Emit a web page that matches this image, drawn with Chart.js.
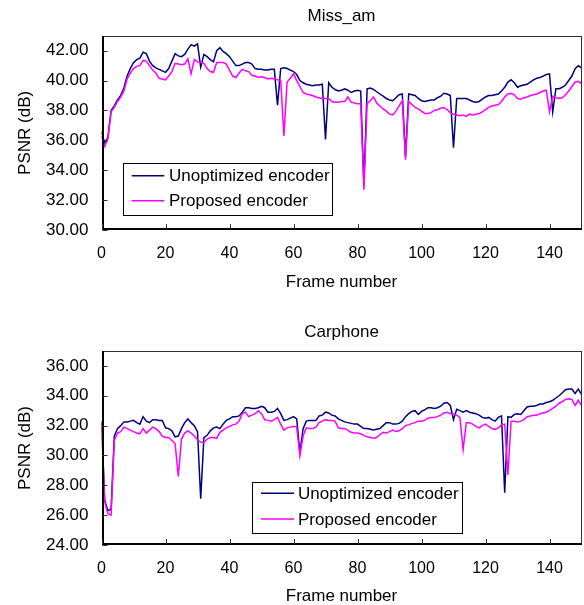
<!DOCTYPE html>
<html>
<head>
<meta charset="utf-8">
<script src="https://cdn.jsdelivr.net/npm/chart.js@4/dist/chart.umd.min.js"></script>
<style>
  html, body { margin: 0; padding: 0; background: #fff; }
  body { width: 584px; height: 605px; position: relative; overflow: hidden; }
  canvas { position: absolute; left: 0; }
</style>
</head>
<body>
<canvas id="c1" width="584" height="300" style="top:0"></canvas>
<canvas id="c2" width="584" height="305" style="top:300px"></canvas>
<script>
// ---------------- data ----------------
const frames = Array.from({ length: 151 }, (_, i) => i);
const xTicks = [0, 20, 40, 60, 80, 100, 120, 140];
const yTicksMiss = [30, 32, 34, 36, 38, 40, 42];
const yTicksCar = [24, 26, 28, 30, 32, 34, 36];
const seriesLabels = ['Unoptimized encoder', 'Proposed encoder'];
const chartTitles = ['Miss_am', 'Carphone'];

const missUnopt = [
  36.6, 35.8, 36.2, 38.0, 38.3, 38.7, 39.0, 39.5, 40.3, 40.8,
  41.2, 41.4, 41.5, 41.9, 41.8, 41.3, 41.0, 40.85, 40.75, 40.65,
  40.55, 40.8, 41.3, 41.8, 41.65, 41.6, 41.75, 42.1, 42.4, 42.3,
  42.45, 40.9, 41.75, 41.6, 41.4, 41.25, 42.0, 42.2, 41.95, 41.8,
  41.6, 41.3, 41.0, 41.0, 41.1, 41.2, 41.2, 41.1, 40.8, 40.75,
  40.75, 40.7, 40.7, 40.75, 40.75, 38.35, 40.8, 40.85, 40.8, 40.7,
  40.6, 40.4, 40.0, 39.85, 39.75, 39.7, 39.65, 39.7, 39.7, 39.75,
  36.05, 39.85, 39.55, 39.4, 39.3, 39.35, 39.45, 39.35, 39.2, 39.3,
  39.35, 39.3, 33.0, 39.45, 39.5, 39.4, 39.25, 39.1, 38.95, 38.8,
  38.7, 38.65, 38.85, 39.05, 39.1, 34.9, 39.1, 39.05, 39.0, 38.8,
  38.65, 38.6, 38.65, 38.7, 38.7, 38.85, 38.95, 39.15, 39.1, 39.0,
  35.5, 38.8, 38.8, 38.8, 38.8, 38.7, 38.6, 38.55, 38.6, 38.75,
  38.9, 39.0, 39.0, 39.05, 39.1, 39.3, 39.55, 39.9, 40.05, 39.85,
  39.55, 39.65, 39.7, 39.75, 39.9, 40.05, 40.15, 40.2, 40.3, 40.4,
  40.45, 37.9, 39.45, 39.45, 39.55, 39.7, 40.0, 40.3, 40.8, 41.0, 40.85
];
const missProp = [
  36.3, 35.6, 36.1, 37.9, 38.2, 38.6, 38.9, 39.3, 40.1, 40.5,
  40.8, 40.95, 41.0, 41.35, 41.3, 41.0, 40.7, 40.5, 40.15, 40.1,
  40.05, 40.3, 40.6, 41.15, 41.1, 41.05, 41.1, 41.45, 40.45, 41.4,
  41.25, 41.2, 41.15, 40.8, 40.6, 40.55, 41.2, 41.2, 41.2, 41.1,
  40.7, 40.3, 40.2, 40.5, 40.75, 40.65, 40.6, 40.35, 40.3, 40.2,
  40.25, 40.2, 40.1, 40.15, 40.1, 40.05, 40.0, 36.3, 39.9, 40.15,
  40.45, 40.0, 39.6, 39.2, 39.1, 39.05, 39.0, 38.9, 38.85, 38.8,
  38.8, 38.8, 38.6, 38.55, 38.55, 38.6, 38.6, 38.9, 38.55, 38.5,
  38.45, 38.45, 32.7, 38.45, 38.65, 38.9, 38.5, 38.3, 38.1, 37.95,
  37.75, 37.7, 37.95, 38.3, 38.65, 34.7, 38.6, 38.4, 38.2, 38.1,
  37.95, 37.8, 37.8, 37.85, 38.0, 38.05, 38.15, 38.2, 38.05, 37.85,
  37.75, 37.7, 37.65, 37.7, 37.6, 37.75, 37.7, 37.75, 37.8, 37.9,
  38.05, 38.2, 38.3, 38.35, 38.4, 38.6, 38.9, 39.1, 39.15, 39.05,
  38.8, 38.75, 38.85, 38.9, 39.0, 39.05, 39.1, 39.2, 39.3, 39.35,
  37.9, 38.95, 38.85, 38.8, 38.85, 39.05, 39.3, 39.6, 39.9, 39.95, 39.8
];
const carUnopt = [
  32.3, 27.0, 26.3, 26.4, 31.3, 31.8, 32.0, 32.25, 32.25, 32.3,
  32.35, 32.2, 32.1, 32.6, 32.3, 32.2, 32.4, 32.4, 32.35, 32.35,
  31.85, 31.8, 31.65, 31.25, 31.3, 31.8, 32.2, 32.45, 32.2, 32.0,
  31.6, 27.1, 31.2, 31.35, 31.65, 31.85, 31.9, 31.8, 32.1, 32.35,
  32.45, 32.6, 32.6, 32.65, 32.9, 33.2, 33.2, 33.15, 33.15, 33.2,
  33.3, 33.2, 32.9, 32.9, 32.95, 33.15, 32.8, 32.35, 32.4, 32.5,
  32.6, 32.45, 30.2, 31.8, 32.3, 32.35, 32.35, 32.35, 32.65, 32.7,
  32.9, 32.85, 32.7, 32.65, 32.45, 32.35, 32.25, 32.2, 32.15, 32.1,
  32.1, 31.95, 31.8, 31.8, 31.75, 31.7, 31.75, 31.8, 32.0, 32.2,
  32.2, 32.1, 32.1, 32.15, 32.3, 32.6, 32.8, 32.95, 33.0, 32.75,
  32.95, 33.05, 33.2, 33.2, 33.15, 33.2, 33.3, 33.5, 33.55, 33.35,
  32.4, 33.1, 33.0, 32.9, 33.0, 32.9, 32.85, 32.8, 32.7, 32.55,
  32.5, 32.55, 32.4, 32.3, 32.55, 32.65, 27.5, 32.6, 32.55, 32.75,
  32.8, 32.75, 33.0, 33.25, 33.3, 33.3, 33.35, 33.45, 33.45, 33.55,
  33.6, 33.7, 33.85, 34.0, 34.2, 34.4, 34.45, 34.45, 34.15, 34.45, 34.1
];
const carProp = [
  32.2, 26.9, 26.1, 26.0, 31.0, 31.5, 31.6, 31.9, 31.8, 31.7,
  31.6, 31.5, 31.45, 31.8, 31.5, 31.7, 31.9, 31.8, 31.6, 31.3,
  31.2, 31.2, 31.0, 30.8, 28.6, 31.1, 31.5, 31.65, 31.5, 31.3,
  31.05, 30.9, 30.85, 31.1, 31.2, 31.2, 31.15, 31.55, 31.7, 31.85,
  31.95, 32.05, 32.1, 32.3, 32.8, 32.9, 32.6, 32.7, 32.8, 33.0,
  32.8, 32.4, 32.35, 32.3, 32.4, 32.55, 32.1, 31.7, 31.85, 31.9,
  31.95, 31.9, 30.0, 31.3, 31.85, 31.8, 31.8, 31.9, 32.2, 32.3,
  32.4, 32.35, 32.35, 32.3, 31.85, 31.8, 31.8, 31.7, 31.55, 31.5,
  31.5, 31.45, 31.35, 31.25, 31.2, 31.15, 31.2, 31.4, 31.55, 31.5,
  31.6, 31.7, 31.6, 31.65, 31.8, 32.0, 32.05, 32.15, 32.2, 32.3,
  32.3, 32.35, 32.5, 32.55, 32.55, 32.6, 32.7, 32.85, 32.9, 32.8,
  32.8, 32.7, 32.55, 30.4, 32.2, 32.2, 32.1, 31.95, 31.85, 32.0,
  32.1, 31.95, 31.8, 31.75, 31.85, 32.05, 32.1, 28.7, 32.3, 32.3,
  32.25, 32.3, 32.4, 32.6, 32.65, 32.7, 32.7, 32.8, 32.85, 32.9,
  33.0, 33.15, 33.3, 33.5, 33.6, 33.75, 33.8, 33.75, 33.35, 33.7, 33.35
];

// ---------------- styling ----------------
const FONT = "'Liberation Sans', Arial, Helvetica, sans-serif";
const BLUE = '#000080';
const MAGENTA = '#FF00FF';

const frameTicksPlugin = {
  id: 'frameTicks',
  afterDatasetsDraw(chart) {
    const { ctx, chartArea: a, scales: { x, y } } = chart;
    ctx.save();
    // thin frame
    ctx.strokeStyle = '#303030';
    ctx.lineWidth = 1;
    ctx.strokeRect(Math.round(a.left) + 0.5, Math.round(a.top) + 0.5,
                   Math.round(a.right - a.left) - 1, Math.round(a.bottom - a.top) - 1);
    // thick axes
    ctx.strokeStyle = '#000';
    ctx.lineWidth = 2;
    ctx.beginPath();
    ctx.moveTo(Math.round(a.left) + 1, Math.round(a.top));
    ctx.lineTo(Math.round(a.left) + 1, Math.round(a.bottom) - 1);
    ctx.lineTo(Math.round(a.right), Math.round(a.bottom) - 1);
    ctx.stroke();
    // inward tick marks
    ctx.lineWidth = 1;
    ctx.strokeStyle = '#333';
    ctx.beginPath();
    x.ticks.forEach(t => {
      const px = Math.round(x.getPixelForValue(t.value)) + 0.5;
      ctx.moveTo(px, a.bottom - 1);
      ctx.lineTo(px, a.bottom - 6);
    });
    y.ticks.forEach(t => {
      const py = Math.round(y.getPixelForValue(t.value)) + 0.5;
      ctx.moveTo(a.left + 1, py);
      ctx.lineTo(a.left + 6, py);
    });
    ctx.stroke();
    ctx.restore();
  }
};

const boxLegendPlugin = {
  id: 'boxLegend',
  afterDraw(chart, args, o) {
    const { ctx } = chart;
    ctx.save();
    ctx.fillStyle = '#fff';
    ctx.fillRect(o.x, o.y, o.w, o.h);
    ctx.strokeStyle = '#000';
    ctx.lineWidth = 1;
    ctx.strokeRect(Math.round(o.x) + 0.5, Math.round(o.y) + 0.5, Math.round(o.w), Math.round(o.h));
    ctx.font = '17px ' + FONT;
    ctx.textBaseline = 'middle';
    ctx.textAlign = 'left';
    chart.data.datasets.forEach((ds, i) => {
      const yy = o.rows[i];
      ctx.strokeStyle = ds.borderColor;
      ctx.lineWidth = 1.5;
      ctx.beginPath();
      ctx.moveTo(o.lineX1, yy);
      ctx.lineTo(o.lineX2, yy);
      ctx.stroke();
      ctx.fillStyle = '#000';
      ctx.fillText(ds.label, o.textX, yy + 1);
    });
    ctx.restore();
  }
};

function makeChart(id, cfg) {
  const canvas = document.getElementById(id);
  return new Chart(canvas, {
    type: 'line',
    data: {
      labels: frames,
      datasets: [
        { label: seriesLabels[0], data: cfg.u.map((v, i) => ({ x: frames[i], y: v })),
          borderColor: BLUE, borderWidth: 1.5, pointRadius: 0, tension: 0, order: 1 },
        { label: seriesLabels[1], data: cfg.p.map((v, i) => ({ x: frames[i], y: v })),
          borderColor: MAGENTA, borderWidth: 1.5, pointRadius: 0, tension: 0, order: 0 }
      ]
    },
    options: {
      responsive: false,
      animation: false,
      devicePixelRatio: 1,
      layout: { padding: { left: 0, right: 2.5, top: 0, bottom: 0 } },
      plugins: {
        legend: { display: false },
        tooltip: { enabled: false },
        title: {
          display: true, text: cfg.title, fullSize: false, color: '#000',
          font: { family: FONT, size: 17, weight: 'normal' },
          padding: cfg.titlePad
        },
        boxLegend: cfg.legend
      },
      scales: {
        x: {
          type: 'linear', min: 0, max: 150,
          afterBuildTicks: s => { s.ticks = xTicks.map(v => ({ value: v })); },
          afterFit: s => { s.height = cfg.xHeight; },
          grid: { display: false, drawTicks: false },
          border: { display: false },
          ticks: { color: '#000', font: { family: FONT, size: 16 }, padding: cfg.xTickPad,
                   maxRotation: 0, autoSkip: false },
          title: { display: true, text: 'Frame number', color: '#000',
                   font: { family: FONT, size: 17, lineHeight: 1 }, padding: { top: 0, bottom: cfg.xTitlePad } }
        },
        y: {
          min: cfg.yMin, max: cfg.yMax,
          afterBuildTicks: s => { s.ticks = cfg.yTicks.map(v => ({ value: v })); },
          afterFit: s => { s.width = 101.5; },
          grid: { display: false, drawTicks: false },
          border: { display: false },
          ticks: { color: '#000', font: { family: FONT, size: 17 }, padding: 13,
                   callback: v => Number(v).toFixed(2) },
          title: { display: true, text: 'PSNR (dB)', color: '#000',
                   font: { family: FONT, size: 17 }, padding: { top: 15, bottom: 0 } }
        }
      }
    },
    plugins: [frameTicksPlugin, boxLegendPlugin]
  });
}

makeChart('c1', {
  title: chartTitles[0], u: missUnopt, p: missProp,
  yMin: 30, yMax: 43, yTicks: yTicksMiss,
  titlePad: { top: 6.3, bottom: 9 },
  xHeight: 70, xTickPad: 14.4, xTitlePad: 9.5,
  legend: { x: 123.3, y: 163.3, w: 209, h: 51.7, lineX1: 131.7, lineX2: 164.3, textX: 169, rows: [175.7, 200.7] }
});
makeChart('c2', {
  title: chartTitles[1], u: carUnopt, p: carProp,
  yMin: 24, yMax: 37, yTicks: yTicksCar,
  titlePad: { top: 22.5, bottom: 8.1 },
  xHeight: 60, xTickPad: 14.4, xTitlePad: 0.5,
  legend: { x: 252.3, y: 181.7, w: 209.7, h: 51.3, lineX1: 261, lineX2: 294, textX: 298, rows: [193.3, 219] }
});
</script>
</body>
</html>
